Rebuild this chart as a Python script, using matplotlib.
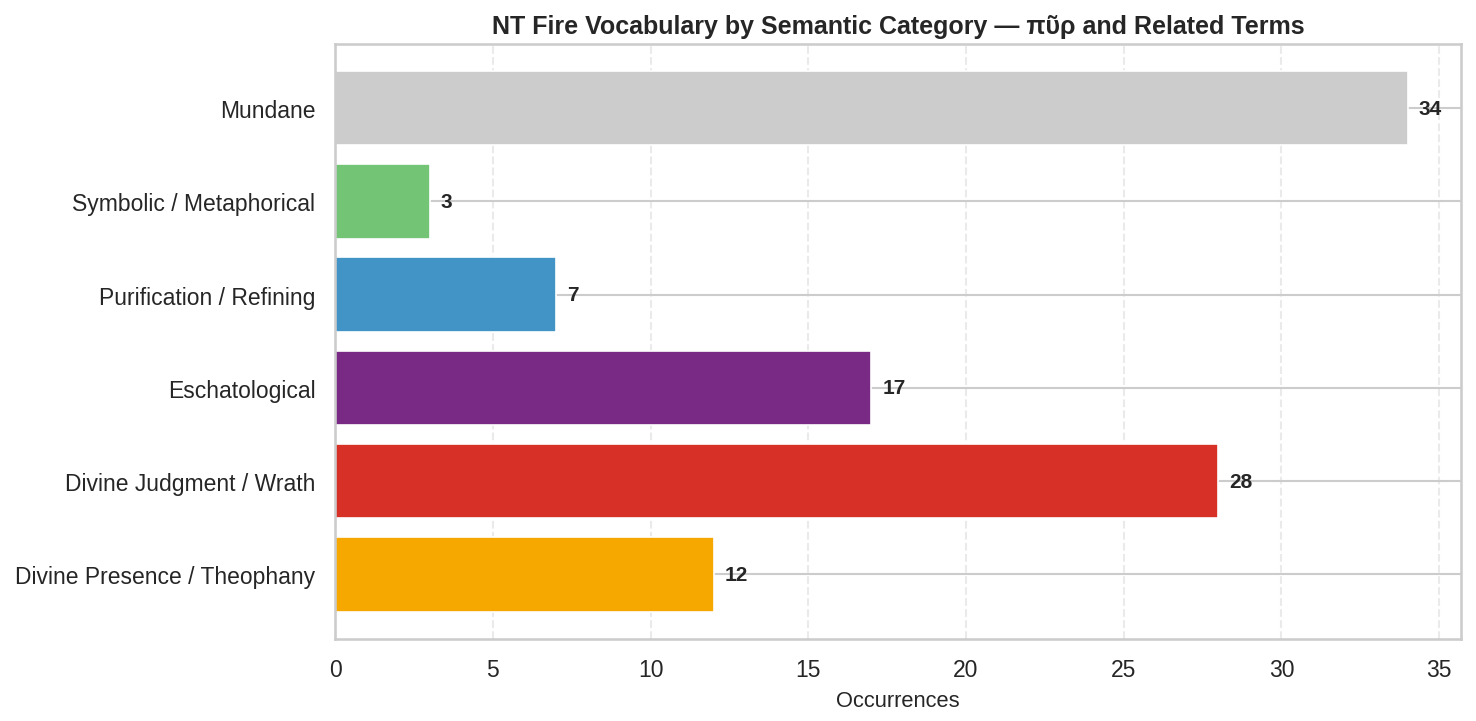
import matplotlib
matplotlib.use("Agg")
import matplotlib.pyplot as plt
import seaborn as sns

categories = ["Divine Presence / Theophany", "Divine Judgment / Wrath", "Eschatological",
              "Purification / Refining", "Symbolic / Metaphorical", "Mundane"]
values = [12, 28, 17, 7, 3, 34]
colors = ["#f6a700", "#d73027", "#782a84", "#4394c6", "#74c476", "#cccccc"]

sns.set_theme(style="whitegrid")
plt.rcParams['font.family'] = ['Liberation Sans', 'DejaVu Sans']

fig, ax = plt.subplots(figsize=(9.84, 4.813), dpi=150)
bars = ax.barh(categories, values, color=colors, height=0.8, edgecolor="white", linewidth=0.8)
for b, v in zip(bars, values):
    ax.text(b.get_width() + 0.35, b.get_y() + b.get_height() / 2, str(v),
            va="center", ha="left", fontsize=10, fontweight="bold", color="#262626")

ax.set_xlim(0, max(values) * 1.05)
ax.set_title("NT Fire Vocabulary by Semantic Category — πῦρ and Related Terms",
             fontsize=12, fontweight="bold", color="#262626", pad=5)
ax.set_xlabel("Occurrences", fontsize=10.5, color="#262626")
ax.tick_params(axis="both", labelsize=11, colors="#262626")
ax.xaxis.grid(True, linestyle="--", alpha=0.4)
ax.set_axisbelow(True)
for s in ax.spines.values():
    s.set_color("#cccccc")
    s.set_linewidth(1.25)

fig.subplots_adjust(left=0.227, right=0.99, top=0.938, bottom=0.114)
fig.savefig("out.png", dpi=150)
